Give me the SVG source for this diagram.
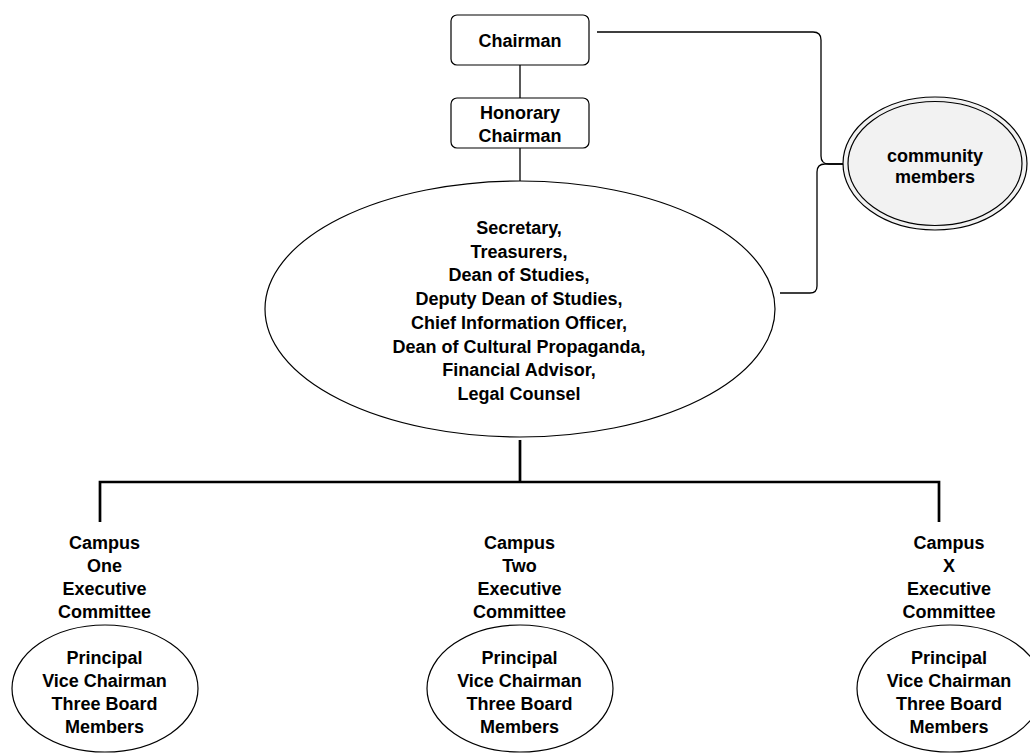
<svg xmlns="http://www.w3.org/2000/svg" width="1030" height="753" viewBox="0 0 1030 753">
<style>
text{font-family:"Liberation Sans",Arial,Helvetica,sans-serif;font-weight:bold;font-size:18px;fill:#000;text-anchor:middle}
.box{fill:#fff;stroke:#000;stroke-width:1.2}
.ell{fill:#fff;stroke:#000;stroke-width:1.2}
.thin{fill:none;stroke:#000;stroke-width:1.3}
.bus{fill:none;stroke:#000;stroke-width:2.7}
</style>
<rect width="1030" height="753" fill="#fff"/>
<g id="connectors">
<path class="thin" d="M520 65V98M520 148V181"/>
<path class="thin" d="M597 32H813Q821 32 821 40V156Q821 164 829 164H851" stroke-width="1.6"/>
<path class="thin" d="M780 293H810Q817 293 817 286V172Q817 164 825 164H851"/>
<path class="bus" d="M520 440V482M100 522V482H939V522"/>
</g>
<g id="chairman">
<rect class="box" x="451" y="15" width="138" height="50" rx="6"/>
<text x="520" y="47">Chairman</text>
</g>
<g id="honorary-chairman">
<rect class="box" x="451" y="98" width="138" height="50" rx="6"/>
<text x="520" y="119">Honorary</text>
<text x="520" y="142">Chairman</text>
</g>
<g id="officers">
<ellipse class="ell" cx="520" cy="309" rx="255" ry="128"/>
<text x="519" y="234">Secretary,</text>
<text x="519" y="257.7">Treasurers,</text>
<text x="519" y="281.4">Dean of Studies,</text>
<text x="519" y="305.1">Deputy Dean of Studies,</text>
<text x="519" y="328.8">Chief Information Officer,</text>
<text x="519" y="352.5">Dean of Cultural Propaganda,</text>
<text x="519" y="376.2">Financial Advisor,</text>
<text x="519" y="400">Legal Counsel</text>
</g>
<g id="community-members">
<ellipse cx="935" cy="163.5" rx="92" ry="66.5" fill="#f2f2f2" stroke="#000" stroke-width="1.2"/>
<ellipse cx="935" cy="163.5" rx="87" ry="62" fill="none" stroke="#000" stroke-width="1.2"/>
<text x="935" y="162">community</text>
<text x="935" y="183">members</text>
</g>
<g id="campus-one">
<text x="104.5" y="549">Campus</text>
<text x="104.5" y="572">One</text>
<text x="104.5" y="595">Executive</text>
<text x="104.5" y="618">Committee</text>
<ellipse class="ell" cx="105" cy="688.5" rx="93" ry="63.5"/>
<text x="104.5" y="664">Principal</text>
<text x="104.5" y="687">Vice Chairman</text>
<text x="104.5" y="710">Three Board</text>
<text x="104.5" y="733">Members</text>
</g>
<g id="campus-two">
<text x="519.5" y="549">Campus</text>
<text x="519.5" y="572">Two</text>
<text x="519.5" y="595">Executive</text>
<text x="519.5" y="618">Committee</text>
<ellipse class="ell" cx="520" cy="688.5" rx="93" ry="63.5"/>
<text x="519.5" y="664">Principal</text>
<text x="519.5" y="687">Vice Chairman</text>
<text x="519.5" y="710">Three Board</text>
<text x="519.5" y="733">Members</text>
</g>
<g id="campus-x">
<text x="949" y="549">Campus</text>
<text x="949" y="572">X</text>
<text x="949" y="595">Executive</text>
<text x="949" y="618">Committee</text>
<ellipse class="ell" cx="950" cy="688.5" rx="93" ry="63.5"/>
<text x="949" y="664">Principal</text>
<text x="949" y="687">Vice Chairman</text>
<text x="949" y="710">Three Board</text>
<text x="949" y="733">Members</text>
</g>
</svg>
